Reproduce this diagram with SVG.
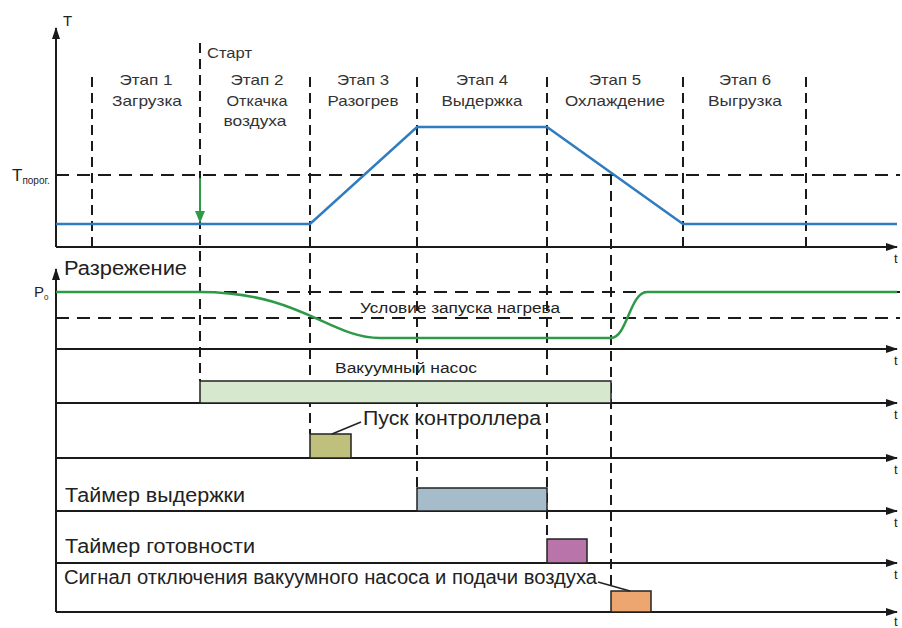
<svg xmlns="http://www.w3.org/2000/svg" width="902" height="628" viewBox="0 0 902 628">
<style>
text{font-family:"Liberation Sans",Arial,sans-serif;fill:#222}
.st{font-size:15px;text-anchor:middle;fill:#333}
.lb{font-size:19.5px}
.ax{stroke:#1a1a1a;stroke-width:2;fill:none}
.dv{stroke:#1a1a1a;stroke-width:2;stroke-dasharray:10 6;fill:none}
.dh{stroke:#1a1a1a;stroke-width:2;stroke-dasharray:13 8;fill:none}
.bx{stroke:#222;stroke-width:1.5}
.t{font-size:13px}
</style>
<defs>
<marker id="ar" viewBox="0 0 12 8" refX="11" refY="4" markerWidth="12" markerHeight="8" markerUnits="userSpaceOnUse" orient="auto"><path d="M0,0 L12,4 L0,8 Z" fill="#1a1a1a"/></marker>
<marker id="ag" viewBox="0 0 10 12" refX="5" refY="11" markerWidth="10" markerHeight="12" markerUnits="userSpaceOnUse" orient="0"><path d="M0,0 L10,0 L5,12 Z" fill="#2e9a48"/></marker>
</defs>
<rect width="902" height="628" fill="#fff"/>

<g id="dashed-guides">
<path class="dh" d="M56,175 H900"/>
<path class="dh" d="M56,292 H900"/>
<path class="dh" d="M56,318 H900"/>
<path class="dv" d="M92,77 V250"/>
<path class="dv" d="M200,43 V381"/>
<path class="dv" d="M310,77 V434"/>
<path class="dv" d="M417,77 V488"/>
<path class="dv" d="M547,77 V539"/>
<path class="dv" d="M611,175 V591"/>
<path class="dv" d="M683,77 V250"/>
<path class="dv" d="M806,77 V250"/>
</g>

<g id="axes">
<path class="ax" d="M56,247 V28" marker-end="url(#ar)"/>
<path class="ax" d="M56,612 V269" marker-end="url(#ar)"/>
<path class="ax" d="M56,247 H897" marker-end="url(#ar)"/>
<path class="ax" d="M56,349 H897" marker-end="url(#ar)"/>
<path class="ax" d="M56,403 H897" marker-end="url(#ar)"/>
<path class="ax" d="M56,458 H897" marker-end="url(#ar)"/>
<path class="ax" d="M56,511 H897" marker-end="url(#ar)"/>
<path class="ax" d="M56,563 H897" marker-end="url(#ar)"/>
<path class="ax" d="M56,612 H897" marker-end="url(#ar)"/>
<text x="63" y="26" style="font-size:15px">T</text>
<text x="12" y="181" style="font-size:17px">T<tspan style="font-size:10px" dy="3">порог.</tspan></text>
<text x="34" y="297" style="font-size:15px">P<tspan style="font-size:8px" dy="3">0</tspan></text>
<text class="t" x="894" y="263">t</text>
<text class="t" x="894" y="365">t</text>
<text class="t" x="894" y="419">t</text>
<text class="t" x="894" y="474">t</text>
<text class="t" x="894" y="527">t</text>
<text class="t" x="894" y="579">t</text>
<text class="t" x="894" y="626">t</text>
</g>

<g id="stages">
<text x="207" y="58" style="font-size:15px;fill:#333" textLength="45" lengthAdjust="spacingAndGlyphs">Старт</text>
<text class="st" x="146" y="85" textLength="53" lengthAdjust="spacingAndGlyphs">Этап 1</text>
<text class="st" x="147" y="106" textLength="70" lengthAdjust="spacingAndGlyphs">Загрузка</text>
<text class="st" x="257" y="85" textLength="53" lengthAdjust="spacingAndGlyphs">Этап 2</text>
<text class="st" x="257" y="106" textLength="61" lengthAdjust="spacingAndGlyphs">Откачка</text>
<text class="st" x="255" y="126" textLength="63" lengthAdjust="spacingAndGlyphs">воздуха</text>
<text class="st" x="363" y="85" textLength="52" lengthAdjust="spacingAndGlyphs">Этап 3</text>
<text class="st" x="363" y="106" textLength="71" lengthAdjust="spacingAndGlyphs">Разогрев</text>
<text class="st" x="482" y="85" textLength="52" lengthAdjust="spacingAndGlyphs">Этап 4</text>
<text class="st" x="482" y="106" textLength="81" lengthAdjust="spacingAndGlyphs">Выдержка</text>
<text class="st" x="615" y="85" textLength="52" lengthAdjust="spacingAndGlyphs">Этап 5</text>
<text class="st" x="615" y="106" textLength="100" lengthAdjust="spacingAndGlyphs">Охлаждение</text>
<text class="st" x="745" y="85" textLength="52" lengthAdjust="spacingAndGlyphs">Этап 6</text>
<text class="st" x="745" y="106" textLength="74" lengthAdjust="spacingAndGlyphs">Выгрузка</text>
</g>

<g id="temperature-curve">
<path d="M56,224 H310 L417,127 H547 L683,224 H897" fill="none" stroke="#2f7cc0" stroke-width="2.5"/>
<path d="M200,178 V222" stroke="#2e9a48" stroke-width="2" marker-end="url(#ag)"/>
</g>

<g id="pressure-curve">
<path d="M56,292 H200 C300,292 330,338 380,338 H611 C627,338 630,292 647,292 H897" fill="none" stroke="#2e9a48" stroke-width="2.5"/>
<text x="64" y="275" class="lb" textLength="123" lengthAdjust="spacingAndGlyphs">Разрежение</text>
<text x="360" y="313" style="font-size:15.5px" textLength="200" lengthAdjust="spacingAndGlyphs">Условие запуска нагрева</text>
</g>

<g id="vacuum-pump">
<rect class="bx" x="200" y="381" width="411" height="22" fill="#d6e9cf"/>
<text x="335" y="373" style="font-size:15.5px" textLength="142" lengthAdjust="spacingAndGlyphs">Вакуумный насос</text>
</g>

<g id="controller-start">
<rect class="bx" x="310" y="434" width="41" height="24" fill="#bfc07c"/>
<text x="363" y="425" class="lb" textLength="178" lengthAdjust="spacingAndGlyphs">Пуск контроллера</text>
</g>

<g id="hold-timer">
<rect class="bx" x="417" y="488" width="130" height="23" fill="#a7bccb"/>
<text x="65" y="502" class="lb" textLength="180" lengthAdjust="spacingAndGlyphs">Таймер выдержки</text>
</g>

<g id="ready-timer">
<rect class="bx" x="547" y="539" width="40" height="24" fill="#b975a9"/>
<text x="65" y="553" class="lb" textLength="190" lengthAdjust="spacingAndGlyphs">Таймер готовности</text>
</g>

<g id="shutdown-signal">
<rect class="bx" x="611" y="591" width="40" height="21" fill="#eda66f"/>
<text x="64" y="584" class="lb" textLength="533" lengthAdjust="spacingAndGlyphs">Сигнал отключения вакуумного насоса и подачи воздуха</text>
</g>

<g id="connectors">
<path d="M332,434 L361,422" stroke="#222" stroke-width="1.5" fill="none"/>
<path d="M598,582 L630,591" stroke="#222" stroke-width="1.5" fill="none"/>
</g>
</svg>
